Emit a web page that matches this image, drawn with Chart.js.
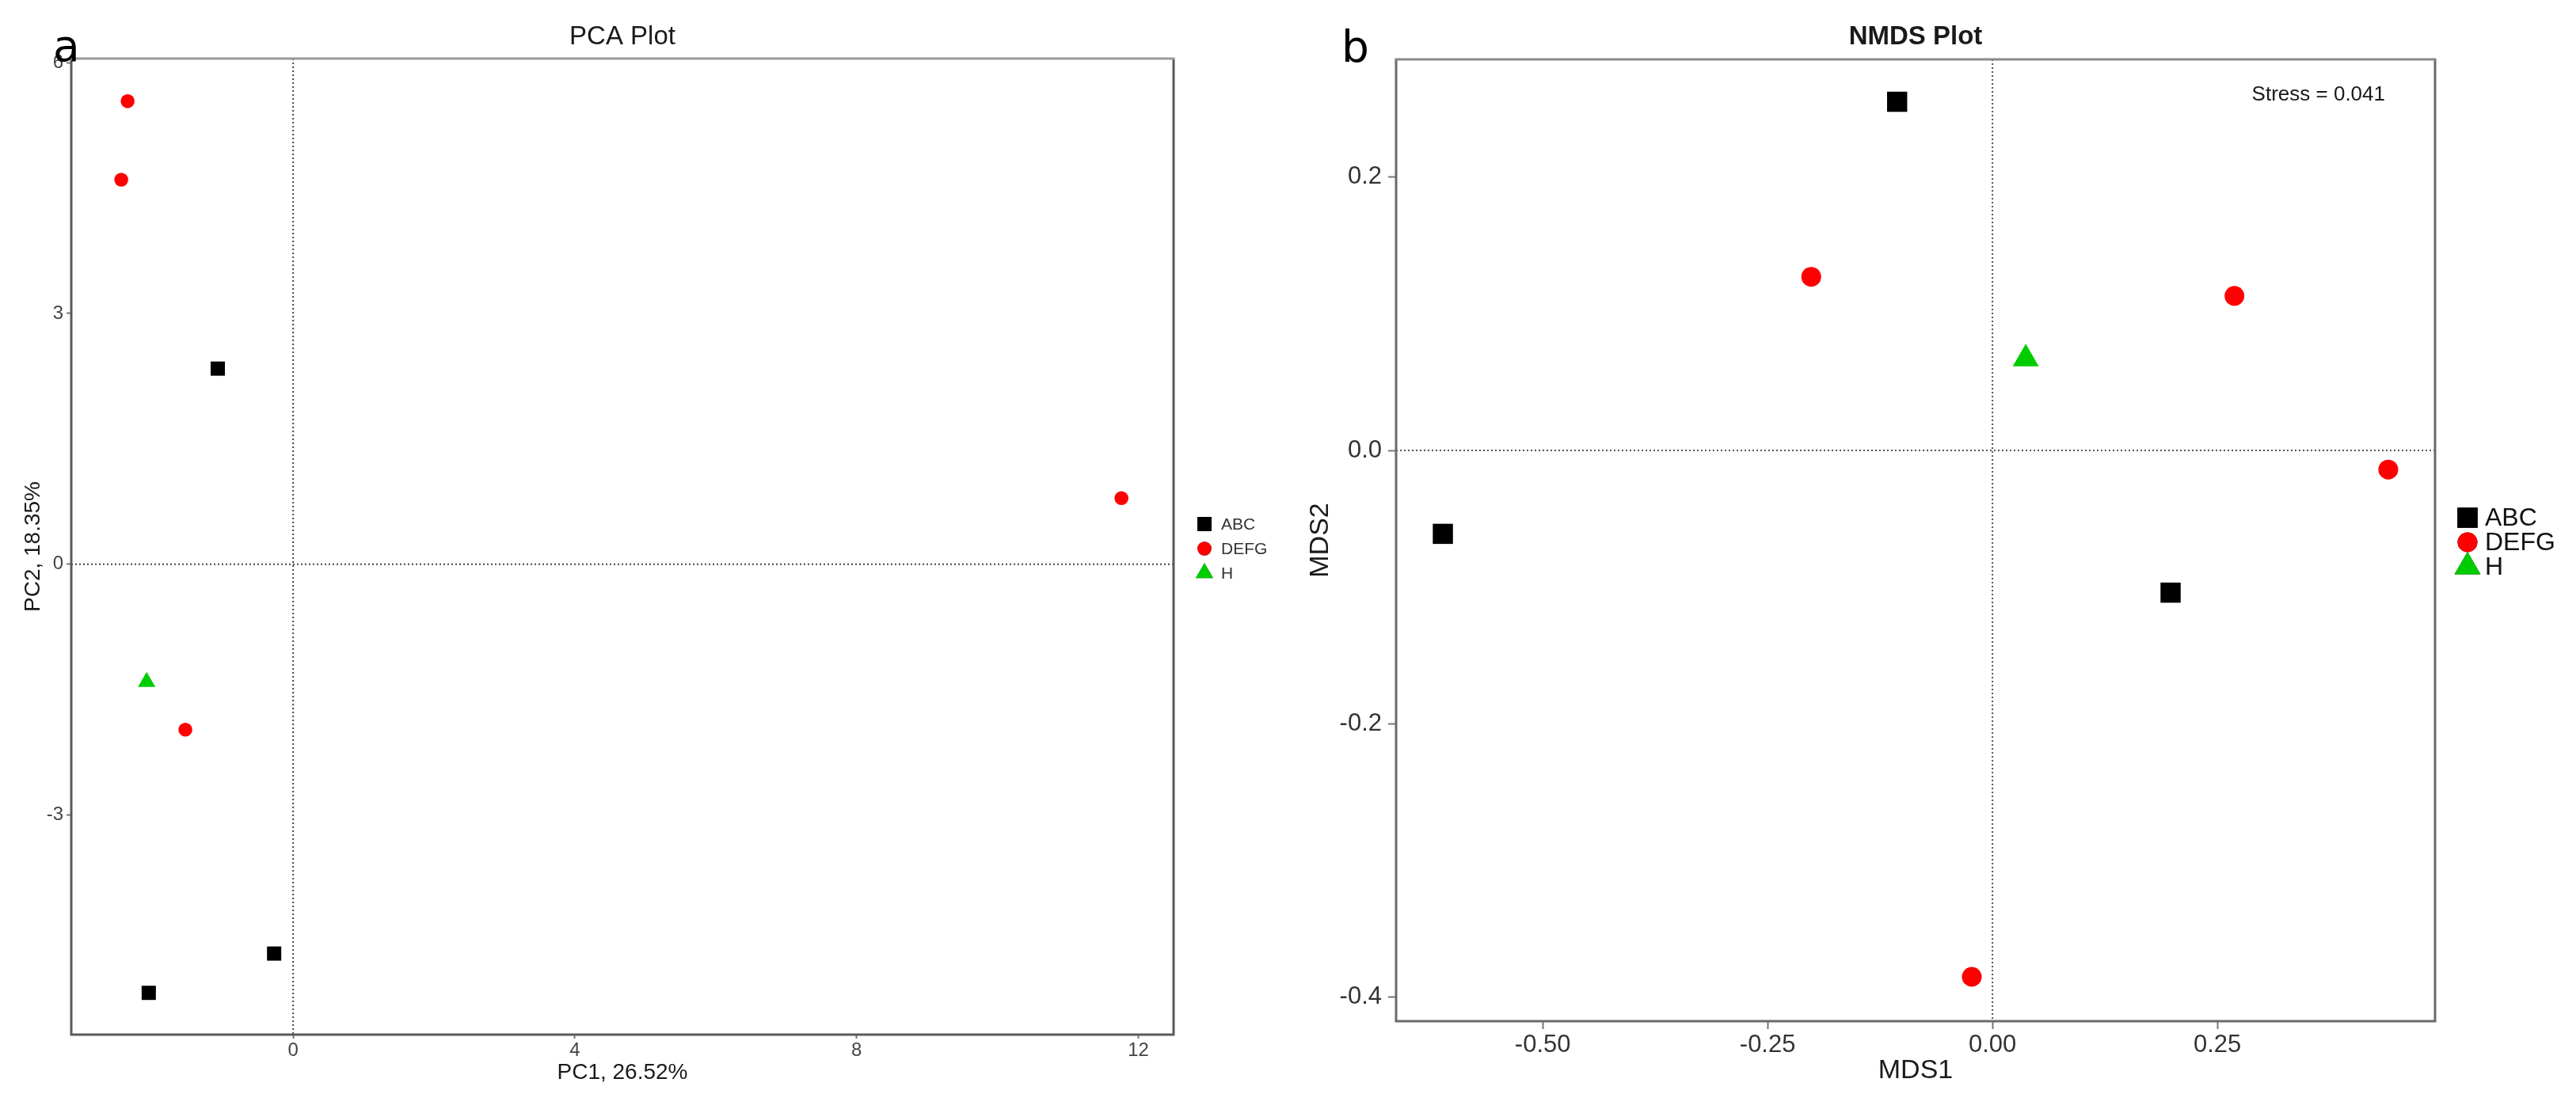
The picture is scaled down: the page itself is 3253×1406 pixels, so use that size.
<!DOCTYPE html>
<html><head><meta charset="utf-8">
<script src="https://cdn.jsdelivr.net/npm/chart.js@4.4.1/dist/chart.umd.min.js"></script>
<style>
html,body{margin:0;padding:0;background:#fff;overflow:hidden}
#wrap{position:relative;width:3253px;height:1406px;background:#fff}
canvas{position:absolute;top:0}
#c1{left:0}
#c2{left:1626px}
</style></head><body>
<div id="wrap"><canvas id="c1" width="1626" height="1406"></canvas><canvas id="c2" width="1627" height="1406"></canvas></div>
<script>
// ---------- data ----------
const groups = ['ABC', 'DEFG', 'H'];
const groupColors = ['#000000', '#FF0000', '#00CD00'];
const groupShapes = ['rect', 'circle', 'triangle'];

// PCA (panel a)
const pcaABC_x  = [-1.07, -0.27, -2.05];
const pcaABC_y  = [2.34, -4.66, -5.13];
const pcaDEFG_x = [-2.35, -2.44, 11.76, -1.53];
const pcaDEFG_y = [5.54, 4.60, 0.79, -1.98];
const pcaH_x    = [-2.08];
const pcaH_y    = [-1.41];
const pcaXTicks = [0, 4, 8, 12];
const pcaYTicks = [-3, 0, 3, 6];
const pcaXTickLabels = ['0', '4', '8', '12'];
const pcaYTickLabels = ['-3', '0', '3', '6'];

// NMDS (panel b)
const nmdsABC_x  = [-0.106, -0.611, 0.198];
const nmdsABC_y  = [0.255, -0.061, -0.104];
const nmdsDEFG_x = [-0.2015, 0.269, 0.44, -0.023];
const nmdsDEFG_y = [0.127, 0.113, -0.014, -0.385];
const nmdsH_x    = [0.037];
const nmdsH_y    = [0.067];
const nmdsXTicks = [-0.5, -0.25, 0, 0.25];
const nmdsYTicks = [-0.4, -0.2, 0, 0.2];
const nmdsXTickLabels = ['-0.50', '-0.25', '0.00', '0.25'];
const nmdsYTickLabels = ['-0.4', '-0.2', '0.0', '0.2'];
const stressText = 'Stress = 0.041';

// ---------- helpers ----------
const FONT = '"Liberation Sans", Arial, sans-serif';
Chart.defaults.font.family = FONT;

function pts(xs, ys) { return xs.map((x, i) => ({x: x, y: ys[i]})); }

function mkDatasets(series, radii) {
  return series.map((s, i) => ({
    label: groups[i],
    data: pts(s[0], s[1]),
    pointStyle: groupShapes[i],
    pointRadius: radii[i],
    pointHoverRadius: radii[i],
    backgroundColor: groupColors[i],
    borderColor: groupColors[i],
    pointBorderWidth: 0,
    showLine: false
  }));
}

const framePlugin = {
  id: 'frame',
  beforeDatasetsDraw(chart, args, o) {
    const {ctx, chartArea: a, scales} = chart;
    ctx.save();
    ctx.strokeStyle = o.zeroColor;
    ctx.lineWidth = 2;
    ctx.setLineDash([2, 3]);
    const x0 = scales.x.getPixelForValue(0);
    const y0 = scales.y.getPixelForValue(0);
    ctx.beginPath();
    ctx.moveTo(x0, a.top); ctx.lineTo(x0, a.bottom);
    ctx.moveTo(a.left, y0); ctx.lineTo(a.right, y0);
    ctx.stroke();
    ctx.restore();
  },
  afterDraw(chart, args, o) {
    const {ctx, chartArea: a} = chart;
    ctx.save();
    ctx.lineWidth = 3;
    ctx.strokeStyle = o.boxColor;
    ctx.beginPath();
    ctx.moveTo(a.left, a.top); ctx.lineTo(a.left, a.bottom); ctx.lineTo(a.right, a.bottom); ctx.lineTo(a.right, a.top);
    ctx.stroke();
    ctx.strokeStyle = o.topColor;
    ctx.beginPath();
    ctx.moveTo(a.left - 1.5, a.top); ctx.lineTo(a.right + 1.5, a.top);
    ctx.stroke();
    // title
    ctx.fillStyle = '#1a1a1a';
    ctx.font = o.titleFont;
    ctx.textAlign = 'center';
    ctx.textBaseline = 'middle';
    ctx.fillText(o.title, (a.left + a.right) / 2, o.titleY);
    // panel letter
    ctx.font = '55px "DejaVu Sans", sans-serif';
    ctx.textAlign = 'left';
    ctx.textBaseline = 'alphabetic';
    ctx.fillStyle = '#000';
    ctx.fillText(o.letter, o.letterX, o.letterY);
    // extra note
    if (o.note) {
      ctx.font = o.noteFont;
      ctx.fillStyle = '#1a1a1a';
      ctx.textAlign = 'right';
      ctx.textBaseline = 'middle';
      ctx.fillText(o.note, o.noteX, o.noteY);
    }
    // legend
    const lg = o.legend;
    chart.data.datasets.forEach((ds, i) => {
      const y = lg.y + i * lg.step;
      Chart.helpers.drawPoint(ctx, {pointStyle: ds.pointStyle, radius: ds.pointRadius, rotation: 0, borderWidth: 0}, lg.x, y);
      ctx.fillStyle = ds.backgroundColor;
      ctx.fill();
      ctx.fillStyle = lg.color;
      ctx.font = lg.font;
      ctx.textAlign = 'left';
      ctx.textBaseline = 'middle';
      ctx.fillText(ds.label, lg.textX, y + 1);
    });
    ctx.restore();
  }
};

function axis(opts) {
  return {
    type: 'linear',
    min: opts.min, max: opts.max,
    afterBuildTicks: s => { s.ticks = opts.ticks.map(v => ({value: v})); },
    afterFit: s => { if (opts.horizontal) s.height = opts.size; else s.width = opts.size; },
    ticks: {
      autoSkip: false, maxRotation: 0, minRotation: 0,
      padding: opts.tickPad,
      color: opts.tickColor,
      font: {family: FONT, size: opts.tickSize},
      callback: (v) => opts.labels[opts.ticks.indexOf(v)]
    },
    grid: {display: true, drawOnChartArea: false, drawTicks: true, tickLength: opts.tickLen, tickColor: '#777', tickWidth: 2},
    border: {display: false},
    title: {display: true, text: opts.title, color: '#1a1a1a', font: {family: FONT, size: opts.titleSize}, padding: opts.titlePad}
  };
}

// ---------- PCA ----------
new Chart(document.getElementById('c1'), {
  type: 'scatter',
  data: {datasets: mkDatasets([[pcaABC_x, pcaABC_y], [pcaDEFG_x, pcaDEFG_y], [pcaH_x, pcaH_y]], [12.7, 8.8, 12.7])},
  options: {
    responsive: false, animation: false, devicePixelRatio: 1, events: [],
    layout: {padding: {left: 0, top: 74, right: 144, bottom: 0}},
    scales: {
      x: axis({horizontal: true, min: -3.15, max: 12.5, ticks: pcaXTicks, labels: pcaXTickLabels, size: 99,
               tickPad: 1, tickLen: 5, tickColor: '#444', tickSize: 24, title: 'PC1, 26.52%', titleSize: 28,
               titlePad: {top: 0, bottom: 34}}),
      y: axis({horizontal: false, min: -5.63, max: 6.05, ticks: pcaYTicks, labels: pcaYTickLabels, size: 90,
               tickPad: 4, tickLen: 6, tickColor: '#444', tickSize: 24, title: 'PC2, 18.35%', titleSize: 28,
               titlePad: {top: 25, bottom: 0}})
    },
    plugins: {
      legend: {display: false}, tooltip: {enabled: false},
      frame: {zeroColor: '#444', boxColor: '#5a5a5a', topColor: '#9a9a9a', title: 'PCA Plot', titleFont: '33px ' + FONT, titleY: 47,
              letter: 'a', letterX: 67, letterY: 77,
              legend: {x: 1521, y: 662, step: 31, textX: 1542, font: '21px ' + FONT, color: '#333'}}
    }
  },
  plugins: [framePlugin]
});

// ---------- NMDS ----------
new Chart(document.getElementById('c2'), {
  type: 'scatter',
  data: {datasets: mkDatasets([[nmdsABC_x, nmdsABC_y], [nmdsDEFG_x, nmdsDEFG_y], [nmdsH_x, nmdsH_y]], [18, 12.5, 19])},
  options: {
    responsive: false, animation: false, devicePixelRatio: 1, events: [],
    layout: {padding: {left: 0, top: 75, right: 178, bottom: 0}},
    scales: {
      x: axis({horizontal: true, min: -0.663, max: 0.492, ticks: nmdsXTicks, labels: nmdsXTickLabels, size: 116,
               tickPad: 2, tickLen: 10, tickColor: '#333', tickSize: 31, title: 'MDS1', titleSize: 34,
               titlePad: {top: 0, bottom: 33}}),
      y: axis({horizontal: false, min: -0.4174, max: 0.286, ticks: nmdsYTicks, labels: nmdsYTickLabels, size: 137,
               tickPad: 8, tickLen: 10, tickColor: '#333', tickSize: 31, title: 'MDS2', titleSize: 34,
               titlePad: {top: 21, bottom: 0}})
    },
    plugins: {
      legend: {display: false}, tooltip: {enabled: false},
      frame: {zeroColor: '#555', boxColor: '#6a6a6a', topColor: '#8a8a8a', title: 'NMDS Plot', titleFont: 'bold 33px ' + FONT, titleY: 47,
              letter: 'b', letterX: 68, letterY: 78,
              note: stressText, noteFont: '26px ' + FONT, noteX: 3012 - 1626, noteY: 120,
              legend: {x: 1490, y: 654, step: 31, textX: 1512, font: '32px ' + FONT, color: '#111'}}
    }
  },
  plugins: [framePlugin]
});
</script>
</body></html>
